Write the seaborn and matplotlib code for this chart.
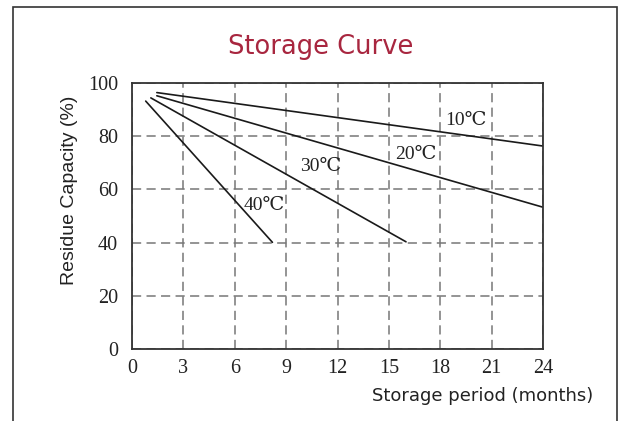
import matplotlib
matplotlib.use("Agg")
import matplotlib.pyplot as plt
import pandas as pd
import seaborn as sns

temps = ["10℃", "20℃", "30℃", "40℃"]
start_month = [1.45, 1.45, 1.1, 0.8]
start_cap = [96.4, 95.2, 94.4, 93.2]
end_month = [24.0, 24.0, 16.0, 8.2]
end_cap = [76.3, 53.3, 40.3, 40.1]
label_month = [19.5, 16.6, 11.0, 7.7]
label_cap = [86.0, 73.0, 68.5, 54.0]

x_ticks = [0, 3, 6, 9, 12, 15, 18, 21, 24]
y_ticks = [0, 20, 40, 60, 80, 100]

rows = []
for t, x0, y0, x1, y1 in zip(temps, start_month, start_cap, end_month, end_cap):
    rows.append({"temp": t, "month": x0, "cap": y0})
    rows.append({"temp": t, "month": x1, "cap": y1})
df = pd.DataFrame(rows)

sns.set_style("white")
fig = plt.figure(figsize=(6.18, 4.21), dpi=100)
ax = fig.add_axes([132 / 618, 1 - 349 / 421, 411 / 618, 266 / 421])

sns.lineplot(data=df, x="month", y="cap", units="temp", estimator=None,
             color="#1a1a1a", lw=1.2, ax=ax, legend=False)

serif = ["Liberation Serif", "DejaVu Serif"]
for t, lx, ly in zip(temps, label_month, label_cap):
    ax.text(lx, ly, t, ha="center", va="center", fontsize=14, family=serif,
            color="#222222", fontweight="light")

ax.set_xlim(0, 24)
ax.set_ylim(0, 100)
ax.set_xticks(x_ticks)
ax.set_yticks(y_ticks)
ax.set_xticklabels([str(v) for v in x_ticks], family="Liberation Serif", fontsize=14.5)
ax.set_yticklabels([str(v) for v in y_ticks], family="Liberation Serif", fontsize=14.5)
ax.tick_params(axis="y", length=0, pad=10, colors="#222222")
ax.tick_params(axis="x", length=0, pad=7, colors="#222222")
ax.grid(True, ls=(0, (6, 3.5)), color="#777777", lw=1.1)
ax.set_axisbelow(True)
for s in ax.spines.values():
    s.set_visible(True)
    s.set_color("#333333")
    s.set_linewidth(1.3)
ax.set_xlabel("")
ax.set_ylabel("")

fig.text(70 / 618, 1 - 190 / 421, "Residue Capacity (%)", rotation=90, ha="center",
         va="center", fontsize=14, family="Liberation Sans", color="#222222")
fig.text(483 / 618, 1 - 396 / 421, "Storage period (months)", ha="center", va="center",
         fontsize=13, family="DejaVu Sans", color="#222222")
fig.text(321 / 618, 1 - 47 / 421, "Storage Curve", ha="center", va="center",
         fontsize=18.5, family="DejaVu Sans", color="#a8263f")

# outer frame of the picture
fig.add_artist(plt.Rectangle((13 / 618, -0.05), 604 / 618, 1.05 - 7 / 421,
                             transform=fig.transFigure, fill=False,
                             edgecolor="#333333", lw=1.2))

fig.savefig("out.png", dpi=100)
